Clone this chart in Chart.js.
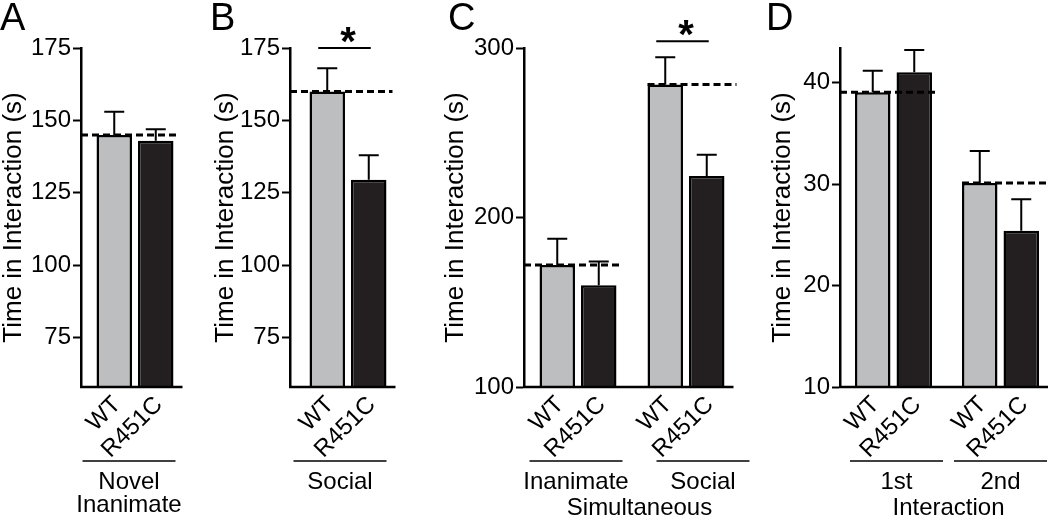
<!DOCTYPE html>
<html>
<head>
<meta charset="utf-8">
<script src="https://cdn.jsdelivr.net/npm/chart.js@4.4.1/dist/chart.umd.min.js"></script>
<style>
    body { margin: 0; background: #fff; }
    #wrap { position: relative; width: 1050px; height: 521px; overflow: hidden; background: #fff; }
    #wrap canvas { position: absolute; top: 0; }
</style>
</head>
<body>
<div id="wrap">
    <canvas id="chartA"></canvas>
    <canvas id="chartB"></canvas>
    <canvas id="chartC"></canvas>
    <canvas id="chartD"></canvas>
</div>
<script>
// DATA
const genotypes = ['WT', 'R451C'];
const yTitle = 'Time in Interaction (s)';

// A - novel inanimate
const groupsA = [['Novel', 'Inanimate']];
const wtMeanA = [145];
const wtSemA = [8];
const mutMeanA = [143];
const mutSemA = [4];
const ticksA = [75, 100, 125, 150, 175];
const sigA = [null];

// B - social
const groupsB = [['Social']];
const wtMeanB = [160];
const wtSemB = [8];
const mutMeanB = [129.5];
const mutSemB = [8.5];
const ticksB = [75, 100, 125, 150, 175];
const sigB = [175];

// C - simultaneous
const groupsC = [['Inanimate'], ['Social']];
const wtMeanC = [172, 278.5];
const wtSemC = [15.5, 16];
const mutMeanC = [160, 224.5];
const mutSemC = [14, 12.5];
const ticksC = [100, 200, 300];
const sigC = [null, 304];

// D - 1st / 2nd interaction
const groupsD = [['1st'], ['2nd']];
const wtMeanD = [39.05, 30.1];
const wtSemD = [2.1, 3.15];
const mutMeanD = [41, 25.4];
const mutSemD = [2.2, 3.1];
const ticksD = [10, 20, 30, 40];
const sigD = [null, null];

const FONT = "'Liberation Sans', Arial, Helvetica, sans-serif";
const GRAY = '#bcbec0';
const DARK = '#231f20';

// panel layout (absolute page px)
const panels = [
    { id: 'chartA', letter: 'A', letterX: 0, left: 0, titleX: 14, axisX: 81, catW: 108,
      yMin: 58, yMax: 175, ticks: ticksA, groups: groupsA, wtMean: wtMeanA, wtSem: wtSemA,
      mutMean: mutMeanA, mutSem: mutSemA, sig: sigA, shift: [-6], xTitle: null },
    { id: 'chartB', letter: 'B', letterX: 210, left: 200, titleX: 226, axisX: 290, catW: 116,
      yMin: 58, yMax: 175, ticks: ticksB, groups: groupsB, wtMean: wtMeanB, wtSem: wtSemB,
      mutMean: mutMeanB, mutSem: mutSemB, sig: sigB, shift: [-8], xTitle: null },
    { id: 'chartC', letter: 'C', letterX: 448, left: 420, titleX: 456, axisX: 524, catW: 108,
      yMin: 100, yMax: 300, ticks: ticksC, groups: groupsC, wtMean: wtMeanC, wtSem: wtSemC,
      mutMean: mutMeanC, mutSem: mutSemC, sig: sigC, shift: [-2, 17], xTitle: 'Simultaneous' },
    { id: 'chartD', letter: 'D', letterX: 766, left: 740, titleX: 783, axisX: 840, catW: 107,
      yMin: 10, yMax: 43.4, ticks: ticksD, groups: groupsD, wtMean: wtMeanD, wtSem: wtSemD,
      mutMean: mutMeanD, mutSem: mutSemD, sig: sigD, shift: [3, 0], xTitle: 'Interaction' }
];

// draws error bars, dashed WT line, axis, labels, significance
function makeDecor(p) {
    return {
        id: 'decor' + p.letter,
        afterDatasetsDraw(chart) {
            const ctx = chart.ctx;
            const y = chart.scales.y;
            const area = chart.chartArea;
            const wt = chart.getDatasetMeta(0).data;
            const mut = chart.getDatasetMeta(1).data;
            ctx.save();
            ctx.strokeStyle = '#000';
            ctx.fillStyle = '#000';

            // x axis line
            const last = mut[mut.length - 1];
            ctx.lineWidth = 2.5;
            ctx.beginPath();
            ctx.moveTo(area.left - 1, area.bottom);
            ctx.lineTo(last.x + last.width / 2 + 9, area.bottom);
            ctx.stroke();

            // dashed line at WT mean
            ctx.setLineDash([7, 4]);
            ctx.lineWidth = 3;
            wt.forEach((bar, j) => {
                const yy = y.getPixelForValue(p.wtMean[j]);
                const x0 = j === 0 ? area.left : bar.x - bar.width / 2;
                const m = mut[j];
                const x1 = m.x + m.width / 2 + (j === 0 ? 6 : 12);
                ctx.beginPath();
                ctx.moveTo(x0, yy);
                ctx.lineTo(x1, yy);
                ctx.stroke();
            });
            ctx.setLineDash([]);

            // error bars (upper only)
            ctx.lineWidth = 2;
            const sets = [[wt, p.wtMean, p.wtSem], [mut, p.mutMean, p.mutSem]];
            sets.forEach(([bars, means, sems]) => {
                bars.forEach((bar, j) => {
                    const yb = y.getPixelForValue(means[j]);
                    const yt = y.getPixelForValue(means[j] + sems[j]);
                    ctx.beginPath();
                    ctx.moveTo(bar.x, yb);
                    ctx.lineTo(bar.x, yt);
                    ctx.moveTo(bar.x - 10, yt);
                    ctx.lineTo(bar.x + 10, yt);
                    ctx.stroke();
                });
            });

            // significance
            p.sig.forEach((s, j) => {
                if (s === null) return;
                const yy = y.getPixelForValue(s);
                ctx.lineWidth = 2;
                ctx.beginPath();
                ctx.moveTo(wt[j].x - 9, yy);
                ctx.lineTo(mut[j].x + 2, yy);
                ctx.stroke();
                ctx.font = 'bold 40px ' + FONT;
                ctx.textAlign = 'center';
                ctx.textBaseline = 'alphabetic';
                const mt = ctx.measureText('*');
                ctx.fillText('*', (wt[j].x + mut[j].x) / 2, yy - 5 - mt.actualBoundingBoxDescent);
            });

            // rotated genotype labels
            ctx.font = '24px ' + FONT;
            ctx.textAlign = 'right';
            ctx.textBaseline = 'middle';
            [wt, mut].forEach((bars, i) => {
                bars.forEach(bar => {
                    ctx.save();
                    ctx.translate(bar.x + 3, area.bottom + 14);
                    ctx.rotate(-Math.PI / 4);
                    ctx.fillText(genotypes[i], 0, 0);
                    ctx.restore();
                });
            });

            // group underline + labels
            ctx.font = '24px ' + FONT;
            ctx.textAlign = 'center';
            let sumX = 0;
            p.groups.forEach((g, j) => {
                const cx = (wt[j].x + mut[j].x) / 2 + p.shift[j];
                sumX += cx;
                ctx.lineWidth = 1.5;
                ctx.beginPath();
                ctx.moveTo(cx - 46.5, 461);
                ctx.lineTo(cx + 46.5, 461);
                ctx.stroke();
                g.forEach((line, k) => ctx.fillText(line, cx, 482 + k * 23));
            });
            if (p.xTitle) {
                ctx.fillText(p.xTitle, sumX / p.groups.length, 508);
            }

            // panel letter
            ctx.font = '38px ' + FONT;
            ctx.textAlign = 'left';
            ctx.textBaseline = 'alphabetic';
            ctx.fillText(p.letter, p.letterX - p.left, 30);
            ctx.restore();
        }
    };
}

function buildChart(p) {
    const canvas = document.getElementById(p.id);
    const n = p.groups.length;
    canvas.width = (p.axisX - p.left) + n * p.catW + 20;
    canvas.height = 521;
    canvas.style.left = p.left + 'px';

    const barOpts = {
        borderColor: '#000',
        borderWidth: 2.5,
        categoryPercentage: 83 / p.catW,
        barPercentage: 0.855
    };

    return new Chart(canvas, {
        type: 'bar',
        data: {
            labels: p.groups,
            datasets: [
                Object.assign({ label: genotypes[0], data: p.wtMean, backgroundColor: GRAY }, barOpts),
                Object.assign({ label: genotypes[1], data: p.mutMean, backgroundColor: DARK }, barOpts)
            ]
        },
        options: {
            responsive: false,
            animation: false,
            devicePixelRatio: 1,
            layout: { padding: { left: p.titleX - 13 - p.left, top: 48, bottom: 134, right: 20 } },
            plugins: {
                legend: { display: false },
                tooltip: { enabled: false }
            },
            scales: {
                x: { display: false },
                y: {
                    min: p.yMin,
                    max: p.yMax,
                    afterBuildTicks: s => { s.ticks = p.ticks.map(v => ({ value: v })); },
                    afterFit: s => { s.width = p.axisX - p.titleX + 13; },
                    border: { display: true, color: '#000', width: 2.5 },
                    grid: { drawOnChartArea: false, drawTicks: true, tickLength: 8, tickWidth: 2, tickColor: '#000' },
                    ticks: { color: '#000', font: { family: FONT, size: 24 }, padding: 2 },
                    title: {
                        display: true,
                        text: yTitle,
                        color: '#000',
                        font: { family: FONT, size: 26, lineHeight: 1 },
                        padding: 0
                    }
                }
            }
        },
        plugins: [makeDecor(p)]
    });
}

panels.forEach(buildChart);
</script>
</body>
</html>
